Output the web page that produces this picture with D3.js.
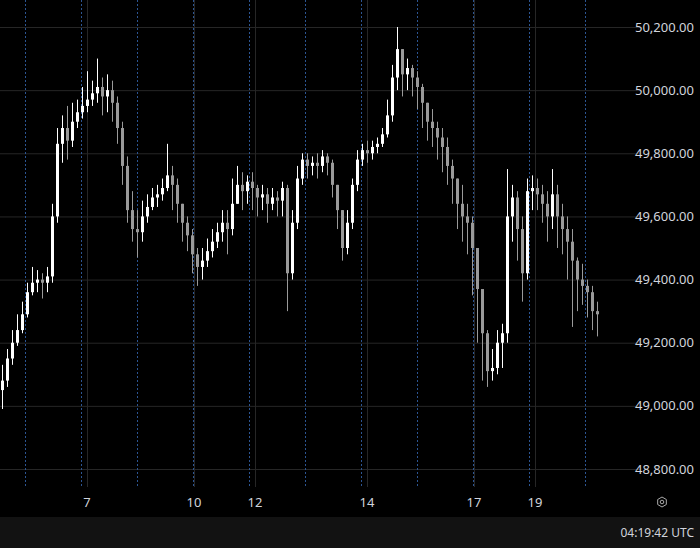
<!DOCTYPE html>
<html>
<head>
<meta charset="utf-8">
<script src="https://cdn.jsdelivr.net/npm/d3@7"></script>
<style>
  html, body { margin: 0; padding: 0; background: #000; }
  svg { display: block; font-family: "Noto Sans", Roboto, sans-serif; }
</style>
</head>
<body>
<svg id="chart" width="700" height="548"></svg>
<script>
// closes, one candle per ~5px
const closes = [
  49080, 49150, 49200, 49240, 49290, 49360, 49390, 49400, 49390, 49410,
  49600, 49830, 49880, 49840, 49900, 49930, 49950, 49970, 49990, 50010,
  49980, 50000, 49960, 49880, 49760, 49620, 49560, 49550, 49600, 49630,
  49660, 49670, 49690, 49730, 49700, 49640, 49580, 49540, 49480, 49440,
  49460, 49490, 49520, 49550, 49580, 49560, 49640, 49700, 49680, 49710,
  49690, 49660, 49670, 49640, 49660, 49650, 49690, 49420, 49580, 49720,
  49780, 49760, 49770, 49760, 49790, 49770, 49700, 49620, 49500, 49580,
  49700, 49780, 49810, 49800, 49820, 49830, 49860, 49920, 50040, 50130,
  50050, 50070, 50040, 50010, 49960, 49900, 49880, 49850, 49820, 49760,
  49720, 49640, 49600, 49580, 49500, 49370, 49230, 49110, 49120, 49200,
  49230, 49600, 49660, 49560, 49420, 49680, 49690, 49670, 49640, 49600,
  49670, 49600, 49560, 49520, 49460, 49400, 49380, 49360, 49300, 49290
]
const highs = [
  49130, 49180, 49240, 49290, 49330, 49390, 49440, 49430, 49420, 49440,
  49640, 49880, 49920, 49950, 49960, 49970, 50010, 50060, 50030, 50100,
  50040, 50050, 50030, 49980, 49900, 49790, 49680, 49620, 49650, 49670,
  49690, 49700, 49720, 49830, 49760, 49720, 49640, 49600, 49560, 49500,
  49500, 49530, 49560, 49580, 49620, 49620, 49720, 49760, 49740, 49730,
  49740, 49700, 49700, 49690, 49690, 49680, 49710, 49700, 49620, 49760,
  49800, 49800, 49790, 49800, 49810, 49800, 49780, 49700, 49620, 49620,
  49720, 49810, 49830, 49840, 49840, 49850, 49880, 49970, 50080, 50200,
  50130, 50100, 50080, 50060, 50020, 49960, 49940, 49900, 49880, 49850,
  49780, 49720, 49700, 49640, 49600, 49500, 49350, 49240, 49180, 49240,
  49260, 49750, 49700, 49680, 49600, 49720, 49730, 49720, 49700, 49680,
  49750, 49700, 49640, 49600, 49560, 49470, 49450, 49400, 49380, 49330
]
const lows = [
  48990, 49060, 49130, 49190, 49230, 49280, 49350, 49360, 49340, 49360,
  49390, 49580, 49770, 49780, 49820, 49880, 49910, 49930, 49950, 49960,
  49920, 49930, 49900, 49830, 49700, 49580, 49520, 49470, 49520, 49580,
  49620, 49630, 49650, 49680, 49620, 49580, 49520, 49490, 49420, 49380,
  49400, 49440, 49470, 49500, 49520, 49480, 49540, 49640, 49620, 49640,
  49620, 49600, 49620, 49580, 49620, 49600, 49600, 49300, 49400, 49560,
  49700, 49720, 49730, 49720, 49740, 49730, 49660, 49560, 49460, 49480,
  49560, 49680, 49760, 49770, 49780, 49800, 49820, 49850, 49900, 50000,
  49980, 50000, 49980, 49940, 49880, 49840, 49820, 49780, 49740, 49700,
  49640, 49560, 49520, 49480, 49350, 49200, 49080, 49060, 49080, 49100,
  49120, 49200, 49520, 49460, 49330, 49400, 49620, 49620, 49580, 49520,
  49560, 49500, 49480, 49400, 49250, 49300, 49320, 49280, 49240, 49220
]
const priceTicks = [48800, 49000, 49200, 49400, 49600, 49800, 50000, 50200]
const dayLabels = ['7', '10', '12', '14', '17', '19']
const dayAt = [17, 38.4, 50.6, 73, 94.4, 106.6]
const sessionAt = [4.6, 15.8, 27, 38.2, 49.4, 60.6, 71.8, 83, 94.2, 105.4, 116.6]

const svg = d3.select('#chart')
const W = 700, H = 548
const plotBottom = 487

const candles = closes.map((c, i) => ({
  i, o: i ? closes[i - 1] : 49050, c, h: highs[i], l: lows[i]
}))

const x = d3.scaleLinear().domain([0, closes.length - 1]).range([2, 597])
const y = d3.scaleLinear().domain([48800, 50200]).range([469, 27])

// horizontal grid
svg.append('g').selectAll('line').data(priceTicks).join('line')
  .attr('x1', 0).attr('x2', 640)
  .attr('y1', d => y(d) + 0.5).attr('y2', d => y(d) + 0.5)
  .attr('stroke', '#262626')

// vertical grid at day labels
svg.append('g').selectAll('line').data(dayAt).join('line')
  .attr('x1', d => Math.round(x(d)) + 0.5).attr('x2', d => Math.round(x(d)) + 0.5)
  .attr('y1', 0).attr('y2', plotBottom)
  .attr('stroke', '#262626')

// session separators (dashed blue)
svg.append('g').selectAll('line').data(sessionAt).join('line')
  .attr('x1', d => Math.round(x(d)) + 0.5).attr('x2', d => Math.round(x(d)) + 0.5)
  .attr('y1', 0).attr('y2', plotBottom)
  .attr('stroke', '#2c5592').attr('stroke-dasharray', '2,2')

// candles
const g = svg.append('g')
g.selectAll('line').data(candles).join('line')
  .attr('x1', d => Math.round(x(d.i)) + 0.5).attr('x2', d => Math.round(x(d.i)) + 0.5)
  .attr('y1', d => y(d.h)).attr('y2', d => y(d.l))
  .attr('stroke', d => d.c >= d.o ? '#ffffff' : '#9a9a9a')
g.selectAll('rect').data(candles).join('rect')
  .attr('x', d => Math.round(x(d.i)) - 1).attr('width', 3)
  .attr('y', d => y(Math.max(d.o, d.c)))
  .attr('height', d => Math.max(1, Math.abs(y(d.o) - y(d.c))))
  .attr('fill', d => d.c >= d.o ? '#ffffff' : '#9a9a9a')

// price axis
const fmt = d3.format(',.2f')
svg.append('g').selectAll('text').data(priceTicks).join('text')
  .attr('x', 694).attr('y', d => y(d)).attr('dy', '0.35em')
  .attr('text-anchor', 'end').attr('fill', '#d1d4dc').attr('font-size', 13)
  .text(d => fmt(d))

// time axis
svg.append('g').selectAll('text').data(dayLabels).join('text')
  .attr('x', (d, k) => x(dayAt[k])).attr('y', 502).attr('dy', '0.35em')
  .attr('text-anchor', 'middle').attr('fill', '#d1d4dc').attr('font-size', 13)
  .text(d => d)

// settings glyph
const gear = svg.append('g').attr('transform', 'translate(662,502)')
gear.append('path')
  .attr('d', d3.range(6).map(k => {
    const a = Math.PI / 6 + k * Math.PI / 3
    return (k ? 'L' : 'M') + (5 * Math.cos(a)).toFixed(2) + ',' + (5 * Math.sin(a)).toFixed(2)
  }).join('') + 'Z')
  .attr('fill', 'none').attr('stroke', '#aaa')
gear.append('circle').attr('r', 1.8).attr('fill', 'none').attr('stroke', '#aaa')

// bottom bar
svg.append('rect').attr('x', 0).attr('y', 517).attr('width', W).attr('height', H - 517)
  .attr('fill', '#121212')
svg.append('text').attr('x', 694).attr('y', 533).attr('dy', '0.35em')
  .attr('text-anchor', 'end').attr('fill', '#d1d4dc').attr('font-size', 12)
  .text('04:19:42 UTC')
</script>
</body>
</html>
